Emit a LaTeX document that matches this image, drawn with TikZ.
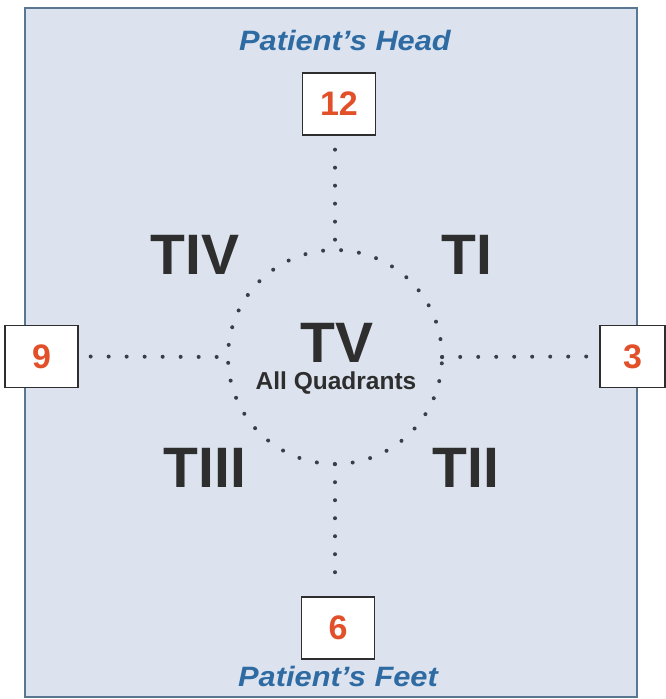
\documentclass[tikz,border=0pt]{standalone}
\usepackage{fontspec}
\setmainfont{Liberation Sans}
\definecolor{panelfill}{HTML}{DCE3EE}
\definecolor{paneledge}{HTML}{5A7791}
\definecolor{titleblue}{HTML}{2F6BA3}
\definecolor{numred}{HTML}{E2502A}
\definecolor{darktext}{HTML}{2E2E2E}
\definecolor{dotgray}{HTML}{3A3F47}
\begin{document}
\begin{tikzpicture}[x=1pt,y=-1pt,
  numbox/.style={draw=darktext,line width=1.3pt,fill=white,minimum width=#1,minimum height=62pt,inner sep=0pt,
    text=numred,font=\bfseries\fontsize{34}{34}\selectfont},
  numbox/.default=73pt,
  tlabel/.style={text=darktext,font=\bfseries\fontsize{57}{57}\selectfont,inner sep=0pt},
  title/.style={text=titleblue,font=\bfseries\itshape\fontsize{28}{28}\selectfont,inner sep=0pt,xscale=1.1},
  dotline/.style={draw=dotgray,line width=4pt,line cap=round,dash pattern=on 0pt off 18pt}]
\useasboundingbox (0,0) rectangle (666,699);
\draw[fill=panelfill,draw=paneledge,line width=1.5pt] (25,8) rectangle (637,697);
\node[title] (head) at (345,40) {Patient’s Head};
\node[title] (feet) at (338,676) {Patient’s Feet};
\node[numbox] (n12) at (339,104) {12};
\node[numbox] (n6) at (338,628) {6};
\node[numbox] (n9) at (41.5,356.5) {9};
\node[numbox=65pt] (n3) at (632.5,356.5) {3};
\node[circle,minimum size=214pt,inner sep=0pt] (c) at (335,357) {};
\draw[dotline] (c) circle[radius=107pt];
\draw[dotline] ([yshift=-14pt]c.north |- n12.south) -- (c.north);
\draw[dotline] (c.south) -- ([yshift=12pt]c.south |- n6.north);
\draw[dotline] ([xshift=12pt]n9.east) -- (c.west);
\draw[dotline] (c.east) -- ([xshift=-10pt]n3.west);
\node[tlabel] (t4) at (195,255) {TIV};
\node[tlabel] (t1) at (467,255) {TI};
\node[tlabel] (t3) at (205,468) {TIII};
\node[tlabel] (t2) at (466,468) {TII};
\node[tlabel] (t5) at (337,343) {TV};
\node[text=darktext,font=\bfseries\fontsize{24.5}{25}\selectfont,inner sep=0pt] (allq) at (336,383) {All Quadrants};
\end{tikzpicture}
\end{document}
